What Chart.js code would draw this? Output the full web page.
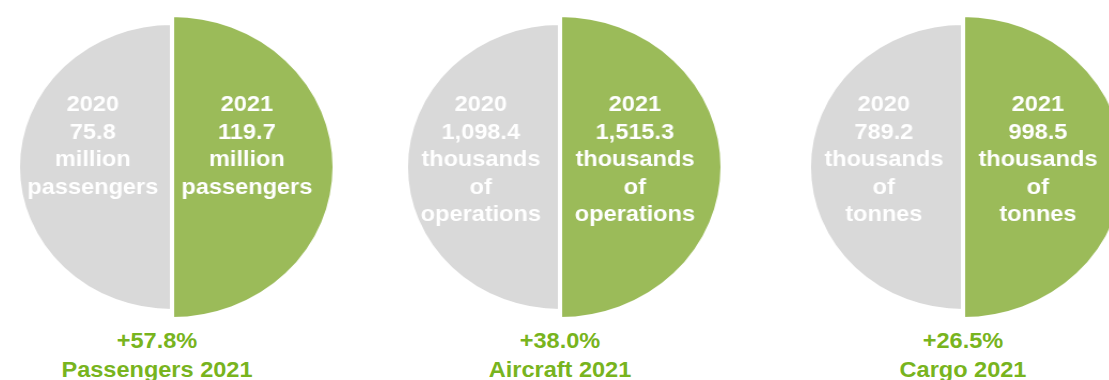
<!DOCTYPE html>
<html>
<head>
<meta charset="utf-8">
<script src="https://cdn.jsdelivr.net/npm/chart.js@4/dist/chart.umd.min.js"></script>
<style>
  html, body { margin: 0; padding: 0; background: #fff; overflow: hidden; }
  body { width: 1109px; height: 380px; position: relative; font-family: "Liberation Sans", Arial, sans-serif; }
  .pie { position: absolute; top: 15px; width: 305px; height: 305px; transform: scaleX(1.07); transform-origin: 152px 152px; }
  .caption { position: absolute; top: 326px; width: 300px; text-align: center; font-weight: bold; font-size: 22px; line-height: 29px; color: #78b41e; transform: scaleX(1.07); white-space: nowrap; }
</style>
</head>
<body>
<script>
const metrics = ["Passengers", "Aircraft", "Cargo"];
const years = ["2020", "2021"];
const values2020 = [75.8, 1098.4, 789.2];
const values2021 = [119.7, 1515.3, 998.5];
const units = [
  ["million", "passengers"],
  ["thousands", "of", "operations"],
  ["thousands", "of", "tonnes"],
];
const growth = ["+57.8%", "+38.0%", "+26.5%"];

// layout only
const pieX = [172, 560, 963];
const captionX = [157, 560, 963];
const RADIUS_RATIO = 0.9475; // 2020 half drawn a bit smaller than 2021 half

const fmt = new Intl.NumberFormat("en-US", { minimumFractionDigits: 1, maximumFractionDigits: 1 });

function labelPlugin(lines) {
  return {
    id: "halfLabels",
    afterDatasetsDraw(chart) {
      const ctx = chart.ctx;
      const meta = chart.getDatasetMeta(0);
      ctx.save();
      ctx.font = "bold 22px 'Liberation Sans', Arial, sans-serif";
      ctx.fillStyle = "#ffffff";
      ctx.textAlign = "center";
      ctx.textBaseline = "alphabetic";
      meta.data.forEach((arc, i) => {
        const x = arc.x + (i === 0 ? -74 : 70);
        lines[i].forEach((line, j) => ctx.fillText(line, x, arc.y - 56 + j * 27.5));
      });
      ctx.restore();
    },
  };
}

metrics.forEach((name, k) => {
  const v20 = values2020[k];
  const v21 = values2021[k];

  const box = document.createElement("div");
  box.className = "pie";
  box.style.left = pieX[k] - 152 + "px";
  const canvas = document.createElement("canvas");
  canvas.width = 305;
  canvas.height = 305;
  box.appendChild(canvas);
  document.body.appendChild(box);

  const cap = document.createElement("div");
  cap.className = "caption";
  cap.style.left = captionX[k] - 150 + "px";
  cap.innerHTML = `${growth[k]}<br>${name} 2021`;
  document.body.appendChild(cap);

  const lines = [
    [years[0], fmt.format(v20), ...units[k]],
    [years[1], fmt.format(v21), ...units[k]],
  ];

  new Chart(canvas, {
    type: "polarArea",
    data: {
      labels: years,
      datasets: [
        {
          data: [v20, v21],
          backgroundColor: ["#d9d9d9", "#9bbb59"],
          borderColor: "#ffffff",
          borderWidth: 4,
          borderJoinStyle: "miter",
        },
      ],
    },
    options: {
      responsive: false,
      animation: false,
      events: [],
      layout: { padding: 0 },
      plugins: { legend: { display: false }, tooltip: { enabled: false } },
      scales: {
        r: {
          display: false,
          startAngle: 180,
          min: (v20 - RADIUS_RATIO * v21) / (1 - RADIUS_RATIO),
          max: v21,
          ticks: { display: false },
        },
      },
    },
    plugins: [labelPlugin(lines)],
  });
});
</script>
</body>
</html>
